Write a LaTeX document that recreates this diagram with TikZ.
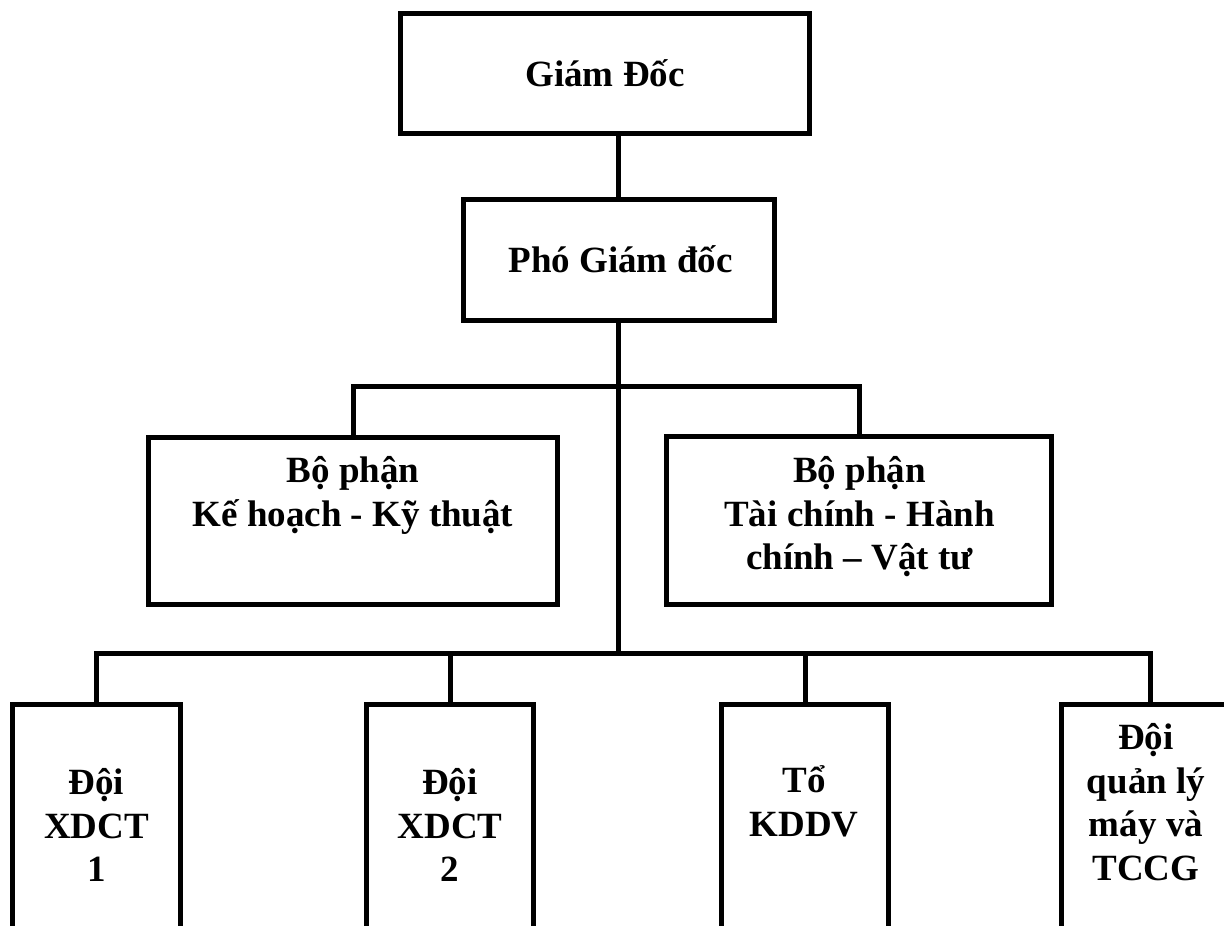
\documentclass[tikz,border=0pt]{standalone}
\usepackage{fontspec}
\setmainfont{Liberation Serif}

\begin{document}
\begin{tikzpicture}[x=1pt,y=-1pt,
	box/.style={draw,line width=5pt,inner sep=0,outer sep=0,anchor=north west},
	txt/.style={inner sep=0,outer sep=0,anchor=north,align=center,font={\fontsize{37}{43.5}\selectfont\bfseries}},
	link/.style={line width=5pt}]
	\useasboundingbox (0,0) rectangle (1224,926);
	\clip (0,0) rectangle (1224,926);
	\node[box,minimum width=409pt,minimum height=120pt] (gd) at (400.5,13.5) {};
	\node[box,minimum width=311pt,minimum height=121pt] (pgd) at (463,199.5) {};
	\node[box,minimum width=409pt,minimum height=167pt] (kh) at (148.5,437.5) {};
	\node[box,minimum width=385pt,minimum height=168pt] (tc) at (666.5,436.5) {};
	\node[box,minimum width=168pt,minimum height=400pt] (d1) at (12.5,704) {};
	\node[box,minimum width=167pt,minimum height=400pt] (d2) at (366.5,704) {};
	\node[box,minimum width=167pt,minimum height=400pt] (d3) at (721.5,704) {};
	\node[box,minimum width=177pt,minimum height=400pt] (d4) at (1061.5,704) {};
	\node[txt] (gdt) at (605,56.5) {\strut Giám Đốc};
	\node[txt] (pgdt) at (620.5,242.5) {\strut Phó Giám đốc};
	\node[txt] (kht) at (353,452.5) {\strut Bộ phận\\Kế hoạch - Kỹ thuật};
	\node[txt] (tct) at (859.5,452.5) {\strut Bộ phận\\Tài chính - Hành\\chính – Vật tư};
	\node[txt] (d1t) at (96.5,764.5) {\strut Đội\\XDCT\\1};
	\node[txt] (d2t) at (450,764.5) {\strut Đội\\XDCT\\2};
	\node[txt] (d3t) at (804,762.5) {\strut Tổ\\KDDV};
	\node[txt] (d4t) at (1146,719.5) {\strut Đội\\quản lý\\máy và\\TCCG};
	\coordinate (b1) at (618.5,386);
	\coordinate (b2) at (618.5,653);
	\draw[link] (gd.south -| pgd.north) -- (pgd.north);
	\draw[link] (pgd.south) -- (b2);
	\draw[link] (kh.north) |- (b1) -| (tc.north);
	\draw[link] (d1.north) |- (b2) -| (d4.north);
	\draw[link] (d2.north) -- (d2.north |- b2);
	\draw[link] (d3.north) -- (d3.north |- b2);
\end{tikzpicture}
\end{document}
